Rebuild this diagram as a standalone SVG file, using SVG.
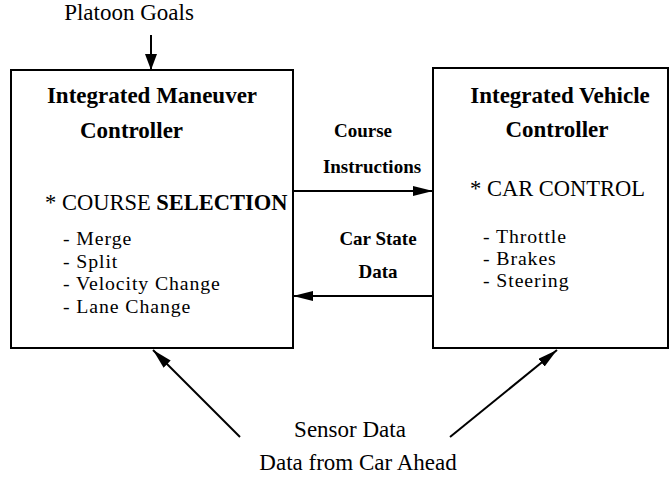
<svg xmlns="http://www.w3.org/2000/svg" width="670" height="477" viewBox="0 0 670 477">
  <style>
    .box { fill: #fff; stroke: #000; stroke-width: 2; }
    .t { font-family: "Liberation Serif", "Times New Roman", serif; fill: #000; }
    .title { font-size: 23px; font-weight: bold; }
    .lbl { font-size: 19px; font-weight: bold; }
    .head { font-size: 22.5px; }
    .item { font-size: 19.8px; letter-spacing: 0.9px; }
    .out { font-size: 23px; }
    .wire { stroke: #000; stroke-width: 2; fill: none; }
  </style>
  <defs>
    <marker id="head" viewBox="0 0 20 10" refX="20" refY="5" markerWidth="20" markerHeight="10" markerUnits="userSpaceOnUse" orient="auto">
      <path d="M0,0 L20,5 L0,10 Z" fill="#000"/>
    </marker>
    <marker id="headS" viewBox="0 0 16 12" refX="16" refY="6" markerWidth="16" markerHeight="12" markerUnits="userSpaceOnUse" orient="auto">
      <path d="M0,0 L16,6 L0,12 Z" fill="#000"/>
    </marker>
  </defs>
  <rect width="670" height="477" fill="#fff"/>

  <text class="t out" x="129" y="20" text-anchor="middle" font-size="22">Platoon Goals</text>

  <g id="maneuver-controller">
    <rect class="box" x="11" y="70" width="282" height="278"/>
    <text class="t title" x="152" y="103" text-anchor="middle">Integrated Maneuver</text>
    <text class="t title" x="80" y="138">Controller</text>
    <text class="t head" x="45" y="210">* COURSE <tspan font-weight="bold">SELECTION</tspan></text>
    <text class="t item" x="63" y="245">- Merge</text>
    <text class="t item" x="63" y="268">-  Split</text>
    <text class="t item" x="63" y="290">- Velocity Change</text>
    <text class="t item" x="63" y="313">- Lane Change</text>
  </g>

  <g id="vehicle-controller">
    <rect class="box" x="433" y="68" width="235" height="280"/>
    <text class="t title" x="560" y="103" text-anchor="middle">Integrated Vehicle</text>
    <text class="t title" x="557" y="137" text-anchor="middle">Controller</text>
    <text class="t head" x="470" y="196">* CAR CONTROL</text>
    <text class="t item" x="483" y="243">- Throttle</text>
    <text class="t item" x="483" y="265">- Brakes</text>
    <text class="t item" x="483" y="287">- Steering</text>
  </g>

  <g id="connectors">
    <line class="wire" x1="151" y1="35" x2="151" y2="70" marker-end="url(#headS)"/>
    <line class="wire" x1="293" y1="191" x2="433" y2="191" marker-end="url(#head)"/>
    <line class="wire" x1="433" y1="296" x2="293" y2="296" marker-end="url(#head)"/>
    <line class="wire" x1="240" y1="437" x2="153" y2="350" marker-end="url(#head)"/>
    <line class="wire" x1="450" y1="437" x2="557" y2="350" marker-end="url(#head)"/>
    <text class="t lbl" x="363" y="137" text-anchor="middle">Course</text>
    <text class="t lbl" x="372" y="173" text-anchor="middle">Instructions</text>
    <text class="t lbl" x="378" y="245" text-anchor="middle">Car State</text>
    <text class="t lbl" x="378" y="278" text-anchor="middle">Data</text>
  </g>

  <text class="t out" x="350" y="437" text-anchor="middle">Sensor Data</text>
  <text class="t out" x="358" y="470" text-anchor="middle">Data from Car Ahead</text>
</svg>
